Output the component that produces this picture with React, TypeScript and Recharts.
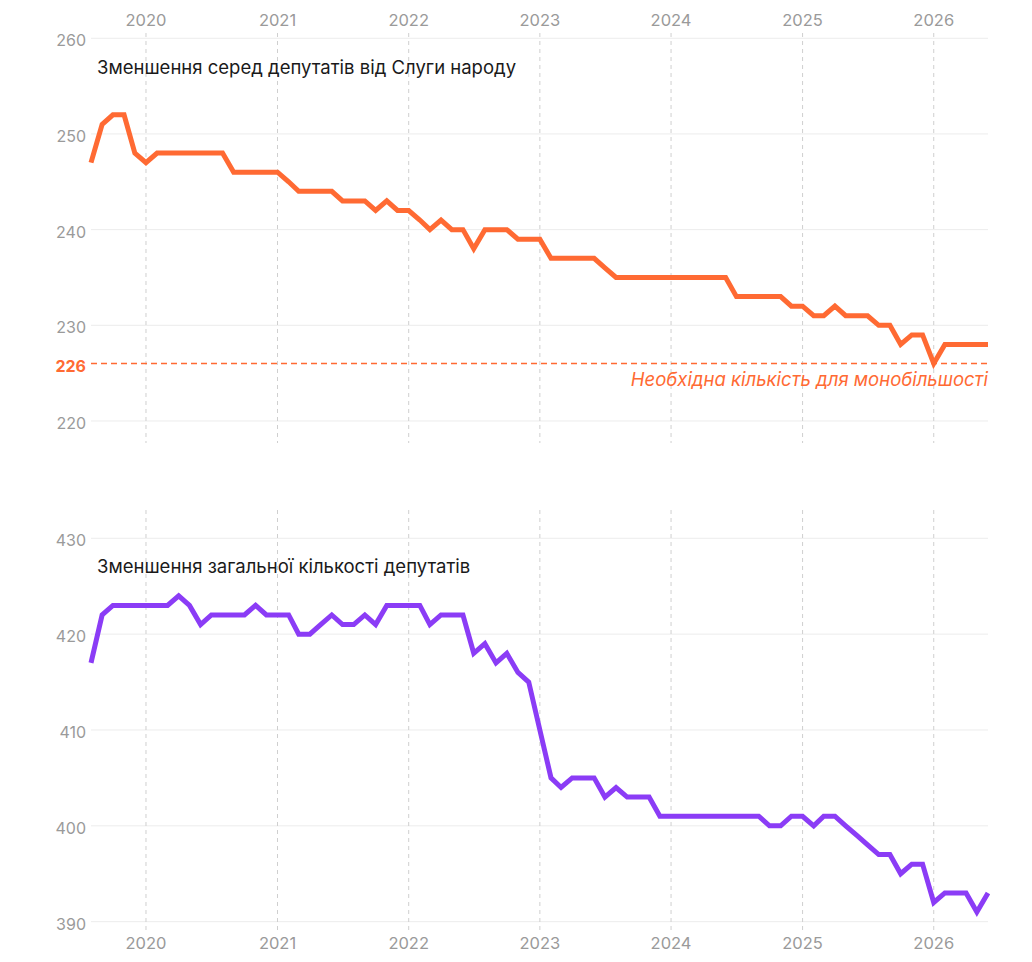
import React from "react";
import { LineChart, Line, XAxis, YAxis, ReferenceLine } from "recharts";

const months = [
  "2019-08", "2019-09", "2019-10", "2019-11", "2019-12",
  "2020-01", "2020-02", "2020-03", "2020-04", "2020-05", "2020-06", "2020-07", "2020-08", "2020-09", "2020-10", "2020-11", "2020-12",
  "2021-01", "2021-02", "2021-03", "2021-04", "2021-05", "2021-06", "2021-07", "2021-08", "2021-09", "2021-10", "2021-11", "2021-12",
  "2022-01", "2022-02", "2022-03", "2022-04", "2022-05", "2022-06", "2022-07", "2022-08", "2022-09", "2022-10", "2022-11", "2022-12",
  "2023-01", "2023-02", "2023-03", "2023-04", "2023-05", "2023-06", "2023-07", "2023-08", "2023-09", "2023-10", "2023-11", "2023-12",
  "2024-01", "2024-02", "2024-03", "2024-04", "2024-05", "2024-06", "2024-07", "2024-08", "2024-09", "2024-10", "2024-11", "2024-12",
  "2025-01", "2025-02", "2025-03", "2025-04", "2025-05", "2025-06", "2025-07", "2025-08", "2025-09", "2025-10", "2025-11", "2025-12",
  "2026-01", "2026-02", "2026-03", "2026-04", "2026-05", "2026-06",
];

const servantSeats = [
  247, 251, 252, 252, 248,
  247, 248, 248, 248, 248, 248, 248, 248, 246, 246, 246, 246,
  246, 245, 244, 244, 244, 244, 243, 243, 243, 242, 243, 242,
  242, 241, 240, 241, 240, 240, 238, 240, 240, 240, 239, 239,
  239, 237, 237, 237, 237, 237, 236, 235, 235, 235, 235, 235,
  235, 235, 235, 235, 235, 235, 233, 233, 233, 233, 233, 232,
  232, 231, 231, 232, 231, 231, 231, 230, 230, 228, 229, 229,
  226, 228, 228, 228, 228, 228,
];

const totalSeats = [
  417, 422, 423, 423, 423,
  423, 423, 423, 424, 423, 421, 422, 422, 422, 422, 423, 422,
  422, 422, 420, 420, 421, 422, 421, 421, 422, 421, 423, 423,
  423, 423, 421, 422, 422, 422, 418, 419, 417, 418, 416, 415,
  410, 405, 404, 405, 405, 405, 403, 404, 403, 403, 403, 401,
  401, 401, 401, 401, 401, 401, 401, 401, 401, 400, 400, 401,
  401, 400, 401, 401, 400, 399, 398, 397, 397, 395, 396, 396,
  392, 393, 393, 393, 391, 393,
];

const yearTicks = ["2020-01", "2021-01", "2022-01", "2023-01", "2024-01", "2025-01", "2026-01"];
const topTicks = [220, 226, 230, 240, 250, 260];
const topGrid = [220, 230, 240, 250, 260];
const bottomTicks = [390, 400, 410, 420, 430];
const majorityThreshold = 226;

const topTitle = "Зменшення серед депутатів від Слуги народу";
const bottomTitle = "Зменшення загальної кількості депутатів";
const thresholdLabel = "Необхідна кількість для монобільшості";

const ORANGE = "#ff6a33";
const PURPLE = "#8b3cf6";
const GRAY = "#9a9a9a";
const FONT = "Inter, 'Noto Sans', sans-serif";

const ts = (m: string) => {
  const [y, mo] = m.split("-").map(Number);
  return Date.UTC(y, mo - 1, 1);
};

const topData = months.map((m, i) => ({ t: ts(m), v: servantSeats[i] }));
const bottomData = months.map((m, i) => ({ t: ts(m), v: totalSeats[i] }));
const yearTs = yearTicks.map(ts);
const xDomain = [ts(months[0]), ts(months[months.length - 1])];

const YTick = (props: any) => {
  const { x, y, payload } = props;
  const special = payload.value === majorityThreshold;
  return (
    <text
      x={x}
      y={y}
      dy={8}
      textAnchor="end"
      fontFamily={FONT}
      fontSize={16}
      fontWeight={special ? 700 : 400}
      fill={special ? ORANGE : GRAY}
    >
      {payload.value}
    </text>
  );
};

const XTick = (props: any) => {
  const { x, y, payload } = props;
  return (
    <text x={x} y={y} textAnchor="middle" fontFamily={FONT} fontSize={16.5} fill={GRAY}>
      {new Date(payload.value).getUTCFullYear()}
    </text>
  );
};

const ThresholdLabel = (props: any) => {
  const vb = props.viewBox || {};
  return (
    <text
      x={vb.x + vb.width}
      y={vb.y + 22}
      textAnchor="end"
      fontFamily={FONT}
      fontSize={18.5}
      fontStyle="italic"
      fill={ORANGE}
    >
      {thresholdLabel}
    </text>
  );
};

export default function App() {
  return (
    <div style={{ position: "absolute", left: 0, top: 0, width: 1032, height: 962, background: "#fff" }}>
      <div style={{ position: "absolute", left: 0, top: 0 }}>
        <LineChart width={1032} height={460} data={topData} margin={{ top: 0, right: 44, bottom: 17, left: 0 }}>
          <XAxis
            dataKey="t"
            type="number"
            domain={xDomain}
            ticks={yearTs}
            interval={0}
            orientation="top"
            height={33}
            axisLine={false}
            tickLine={false}
            tickSize={0}
            tickMargin={7}
            tick={<XTick />}
          />
          <YAxis
            type="number"
            domain={[217.7, 260.55]}
            ticks={topTicks}
            interval={0}
            width={91}
            axisLine={false}
            tickLine={false}
            tickSize={0}
            tickMargin={5}
            tick={<YTick />}
          />
          {topGrid.map((v) => (
            <ReferenceLine key={"h" + v} y={v} stroke="#ececec" strokeWidth={1} />
          ))}
          {yearTs.map((t) => (
            <ReferenceLine key={"v" + t} x={t} stroke="#cfcfcf" strokeDasharray="4 4" strokeWidth={1} />
          ))}
          <ReferenceLine
            y={majorityThreshold}
            stroke={ORANGE}
            strokeDasharray="6 4"
            strokeWidth={1.5}
            label={<ThresholdLabel />}
          />
          <Line type="linear" dataKey="v" stroke={ORANGE} strokeWidth={5} dot={false} activeDot={false} isAnimationActive={false} />
        </LineChart>
      </div>
      <div style={{ position: "absolute", left: 0, top: 460 }}>
        <LineChart width={1032} height={502} data={bottomData} margin={{ top: 48, right: 44, bottom: 0, left: 0 }}>
          <XAxis
            dataKey="t"
            type="number"
            domain={xDomain}
            ticks={yearTs}
            interval={0}
            orientation="bottom"
            height={32}
            axisLine={false}
            tickLine={false}
            tickSize={0}
            tickMargin={19}
            tick={<XTick />}
          />
          <YAxis
            type="number"
            domain={[389.13, 433.16]}
            ticks={bottomTicks}
            interval={0}
            width={91}
            axisLine={false}
            tickLine={false}
            tickSize={0}
            tickMargin={5}
            tick={<YTick />}
          />
          {bottomTicks.map((v) => (
            <ReferenceLine key={"h" + v} y={v} stroke="#ececec" strokeWidth={1} />
          ))}
          {yearTs.map((t) => (
            <ReferenceLine key={"v" + t} x={t} stroke="#cfcfcf" strokeDasharray="4 4" strokeWidth={1} />
          ))}
          <Line type="linear" dataKey="v" stroke={PURPLE} strokeWidth={5} dot={false} activeDot={false} isAnimationActive={false} />
        </LineChart>
      </div>
      <svg
        width={1032}
        height={962}
        style={{ position: "absolute", left: 0, top: 0, pointerEvents: "none" }}
      >
        <text x={97} y={74} fontFamily={FONT} fontSize={18.5} fill="#1a1a1a">
          {topTitle}
        </text>
        <text x={97} y={573} fontFamily={FONT} fontSize={18.5} fill="#1a1a1a">
          {bottomTitle}
        </text>
      </svg>
    </div>
  );
}
